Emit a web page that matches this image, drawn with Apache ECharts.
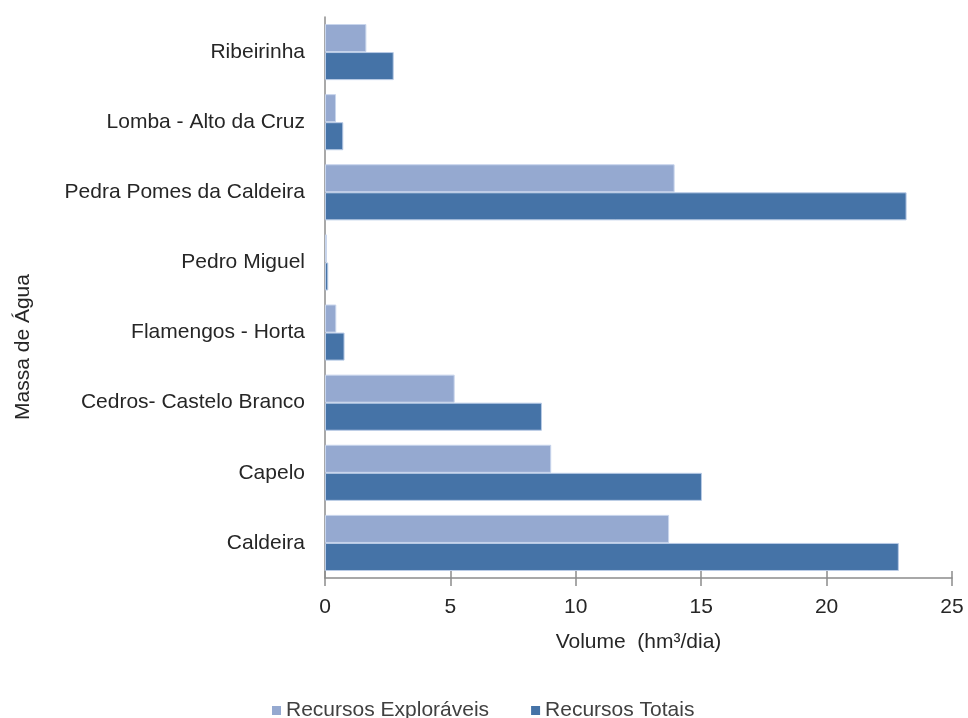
<!DOCTYPE html>
<html>
<head>
<meta charset="utf-8">
<script src="https://cdn.jsdelivr.net/npm/echarts@6/dist/echarts.min.js"></script>
<style>
  html, body { margin: 0; padding: 0; background: #fff; }
  #chart { width: 968px; height: 718px; }
</style>
</head>
<body>
<div id="chart"></div>
<script>
// categorias (de baixo para cima, como no eixo do ECharts)
var categories = ['Caldeira', 'Capelo', 'Cedros- Castelo Branco', 'Flamengos - Horta',
  'Pedro Miguel', 'Pedra Pomes da Caldeira', 'Lomba - Alto da Cruz', 'Ribeirinha'];
// valores (hm3/dia)
var exploraveis = [13.72, 9.02, 5.17, 0.45, 0.08, 13.94, 0.44, 1.65];
var totais = [22.88, 15.03, 8.65, 0.78, 0.13, 23.19, 0.73, 2.74];
var xTicks = [0, 5, 10, 15, 20, 25];

var font = 'Liberation Sans, Arial, sans-serif';
var chart = echarts.init(document.getElementById('chart'));

var option = {
  animation: false,
  textStyle: { fontFamily: font },
  grid: { left: 325, right: 16, top: 17, bottom: 140, outerBoundsMode: 'none', containLabel: false },
  // titulo do eixo vertical (fica um pouco abaixo do centro, como no original)
  graphic: [{
    type: 'text',
    x: 23,
    y: 347,
    rotation: Math.PI / 2,
    style: {
      text: 'Massa de Água',
      fontSize: 21,
      fontFamily: font,
      fill: '#262626',
      align: 'center',
      verticalAlign: 'middle'
    }
  }],
  legend: {
    data: ['Recursos Exploráveis', 'Recursos Totais'],
    bottom: -8,
    left: 267,
    icon: 'rect',
    itemWidth: 9,
    itemHeight: 9,
    itemGap: 42,
    itemStyle: { borderWidth: 0 },
    textStyle: { fontSize: 21, color: '#404040', fontFamily: font }
  },
  xAxis: [{
    type: 'value',
    min: xTicks[0],
    max: xTicks[xTicks.length - 1],
    interval: 5,
    name: 'Volume  (hm³/dia)',
    nameLocation: 'middle',
    nameGap: 54,
    nameTextStyle: { fontSize: 21, color: '#262626' },
    axisLine: { show: true, lineStyle: { color: '#8c8c8c', width: 1.5 } },
    axisTick: { show: true, length: 8, lineStyle: { color: '#8c8c8c', width: 1.5 } },
    axisLabel: { fontSize: 21, color: '#262626', margin: 19 },
    splitLine: { show: false }
  }, {
    // apenas para os tracinhos que atravessam o eixo
    type: 'value',
    position: 'bottom',
    min: xTicks[0],
    max: xTicks[xTicks.length - 1],
    interval: 5,
    axisLine: { show: false },
    axisTick: { show: true, inside: true, length: 7, lineStyle: { color: '#8c8c8c', width: 1.5 } },
    axisLabel: { show: false },
    splitLine: { show: false }
  }],
  yAxis: {
    type: 'category',
    data: categories,
    axisLine: { show: true, lineStyle: { color: '#8c8c8c', width: 1.5 } },
    axisTick: { show: false },
    axisLabel: { fontSize: 21, color: '#262626', margin: 20 }
  },
  series: [
    {
      name: 'Recursos Exploráveis',
      type: 'bar',
      data: exploraveis,
      barGap: '0%',
      barCategoryGap: '20%',
      itemStyle: { color: '#95a9d0', borderColor: '#c8d5ec', borderWidth: 1 }
    },
    {
      name: 'Recursos Totais',
      type: 'bar',
      data: totais,
      barGap: '0%',
      barCategoryGap: '20%',
      itemStyle: { color: '#4573a7', borderColor: '#b9cbe6', borderWidth: 1 }
    }
  ]
};
chart.setOption(option);
</script>
</body>
</html>
